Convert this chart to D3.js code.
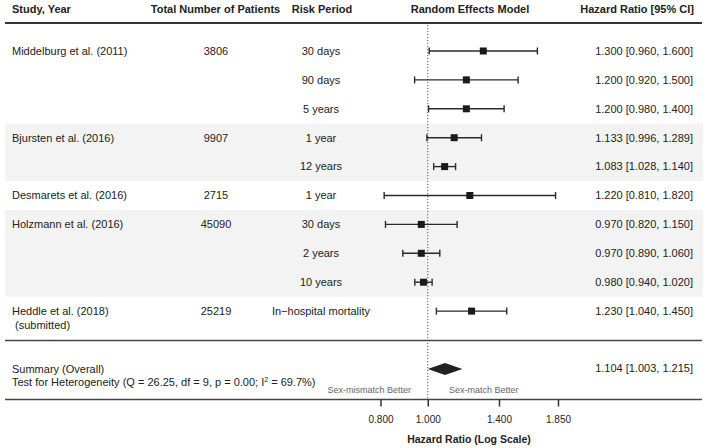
<!DOCTYPE html>
<html>
<head>
<meta charset="utf-8">
<script src="https://cdn.jsdelivr.net/npm/d3@7"></script>
<style>
  html, body { margin: 0; padding: 0; background: #fff; }
  svg { display: block; }
  text { font-family: "Liberation Sans", Arial, sans-serif; fill: #222; }
</style>
</head>
<body>
<svg id="chart" width="709" height="448"></svg>
<script>
// ---------- data ----------
const studies   = ["Middelburg et al. (2011)", "Bjursten et al. (2016)", "Desmarets et al. (2016)", "Holzmann et al. (2016)", "Heddle et al. (2018)"];
const studyNote = ["", "", "", "", " (submitted)"];
const patients  = [3806, 9907, 2715, 45090, 25219];
const rowStudy  = [0, 0, 0, 1, 1, 2, 3, 3, 3, 4];
const periods   = ["30 days", "90 days", "5 years", "1 year", "12 years", "1 year", "30 days", "2 years", "10 years", "In\u2212hospital mortality"];
const hr        = [1.300, 1.200, 1.200, 1.133, 1.083, 1.220, 0.970, 0.970, 0.980, 1.230];
const lower     = [0.960, 0.920, 0.980, 0.996, 1.028, 0.810, 0.820, 0.890, 0.940, 1.040];
const upper     = [1.600, 1.500, 1.400, 1.289, 1.140, 1.820, 1.150, 1.060, 1.020, 1.450];
const shadedStudies = [1, 3];
const summaryText = [1.104, 1.003, 1.215];          // estimate, lower, upper (label)
const summaryDrawn = [1.085, 1.000, 1.178];         // diamond as drawn in the figure
const ticks = [0.800, 1.000, 1.400, 1.850];
const heterogeneity = { Q: "26.25", df: "9", p: "0.00", I2: "69.7%" };

// ---------- layout ----------
const svg = d3.select("#chart");
const left = 5, right = 703;
const x = d3.scaleLog().domain([0.8, 1.85]).range([380.5, 558]);
const y = d3.scaleLinear().domain([0, 9]).range([51, 311.1]);
const rowH = y(1) - y(0);
const fmt = d3.format(".3f");

// shaded bands
shadedStudies.forEach(s => {
  const rows = rowStudy.map((v, i) => v === s ? i : -1).filter(i => i >= 0);
  const y0 = y(d3.min(rows)) - rowH / 2, y1 = y(d3.max(rows)) + rowH / 2;
  svg.append("rect").attr("x", left).attr("y", y0).attr("width", right - left).attr("height", y1 - y0)
     .attr("fill", "#f3f3f3");
});

// headers
const hdrY = 13;
const hdr = svg.append("g").attr("font-weight", "bold").attr("font-size", 11);
hdr.append("text").attr("x", 12).attr("y", hdrY).text("Study, Year");
hdr.append("text").attr("x", 215.5).attr("y", hdrY).attr("text-anchor", "middle").text("Total Number of Patients");
hdr.append("text").attr("x", 322).attr("y", hdrY).attr("text-anchor", "middle").text("Risk Period");
hdr.append("text").attr("x", 470).attr("y", hdrY).attr("text-anchor", "middle").text("Random Effects Model");
hdr.append("text").attr("x", 694).attr("y", hdrY).attr("text-anchor", "end").text("Hazard Ratio [95% CI]");

// horizontal rules
svg.append("line").attr("x1", left).attr("x2", right - 1).attr("y1", 23).attr("y2", 23).attr("stroke", "#333").attr("stroke-width", 2);
svg.append("line").attr("x1", left).attr("x2", right - 1).attr("y1", 340.5).attr("y2", 340.5).attr("stroke", "#444").attr("stroke-width", 1.5);
svg.append("line").attr("x1", left).attr("x2", right - 1).attr("y1", 399.5).attr("y2", 399.5).attr("stroke", "#444").attr("stroke-width", 1.5);

// reference line at 1
svg.append("line").attr("x1", x(1)).attr("x2", x(1)).attr("y1", 25).attr("y2", 399)
   .attr("stroke", "#555").attr("stroke-width", 1).attr("stroke-dasharray", "1.2,1.8");

// study labels & patients
studies.forEach((s, k) => {
  const first = rowStudy.indexOf(k);
  const yy = y(first);
  svg.append("text").attr("x", 12).attr("y", yy).attr("dy", "0.35em").attr("font-size", 11).text(s);
  if (studyNote[k]) svg.append("text").attr("x", 12).attr("y", yy + 14).attr("dy", "0.35em").attr("font-size", 11)
                       .attr("xml:space", "preserve").style("white-space", "pre").text(studyNote[k]);
  svg.append("text").attr("x", 216).attr("y", yy).attr("dy", "0.35em").attr("font-size", 11)
     .attr("text-anchor", "middle").text(patients[k]);
});

// rows
hr.forEach((v, i) => {
  const yy = y(i);
  svg.append("text").attr("x", 321).attr("y", yy).attr("dy", "0.35em").attr("font-size", 11)
     .attr("text-anchor", "middle").text(periods[i]);
  // CI drawn symmetric on log scale (yi ± 1.96·sei)
  const half = (Math.log(upper[i]) - Math.log(lower[i])) / 2;
  const lo = Math.exp(Math.log(v) - half), hi = Math.exp(Math.log(v) + half);
  const g = svg.append("g").attr("stroke", "#2a2a2a").attr("stroke-width", 1.4);
  g.append("line").attr("x1", x(lo)).attr("x2", x(hi)).attr("y1", yy).attr("y2", yy);
  g.append("line").attr("x1", x(lo)).attr("x2", x(lo)).attr("y1", yy - 3.5).attr("y2", yy + 3.5);
  g.append("line").attr("x1", x(hi)).attr("x2", x(hi)).attr("y1", yy - 3.5).attr("y2", yy + 3.5);
  svg.append("rect").attr("x", x(v) - 3.5).attr("y", yy - 3.5).attr("width", 7).attr("height", 7).attr("fill", "#1a1a1a");
  svg.append("text").attr("x", 693).attr("y", yy).attr("dy", "0.35em").attr("font-size", 11)
     .attr("text-anchor", "end").text(`${fmt(v)} [${fmt(lower[i])}, ${fmt(upper[i])}]`);
});

// summary
const sy = 369;
svg.append("polygon")
   .attr("points", [[x(summaryDrawn[1]), sy], [x(summaryDrawn[0]), sy - 6], [x(summaryDrawn[2]), sy], [x(summaryDrawn[0]), sy + 6]].map(p => p.join(",")).join(" "))
   .attr("fill", "#222");
svg.append("text").attr("x", 12).attr("y", 369).attr("dy", "0.35em").attr("font-size", 11).text("Summary (Overall)");
const het = svg.append("text").attr("x", 12).attr("y", 382.5).attr("dy", "0.35em").attr("font-size", 11);
het.append("tspan").text(`Test for Heterogeneity (Q = ${heterogeneity.Q}, df = ${heterogeneity.df}, p = ${heterogeneity.p}; I`);
het.append("tspan").attr("dy", -4).attr("font-size", 7).text("2");
het.append("tspan").attr("dy", 4).text(` = ${heterogeneity.I2})`);
svg.append("text").attr("x", 693).attr("y", 368).attr("dy", "0.35em").attr("font-size", 11)
   .attr("text-anchor", "end").text(`${fmt(summaryText[0])} [${fmt(summaryText[1])}, ${fmt(summaryText[2])}]`);

// direction labels
svg.append("text").attr("x", 411).attr("y", 390).attr("dy", "0.35em").attr("font-size", 9).attr("text-anchor", "end")
   .style("fill", "#666").text("Sex-mismatch Better");
svg.append("text").attr("x", 449).attr("y", 390).attr("dy", "0.35em").attr("font-size", 9)
   .style("fill", "#666").text("Sex-match Better");

// axis
const axis = d3.axisBottom(x).tickValues(ticks).tickFormat(d3.format(".3f")).tickSize(7).tickPadding(9);
const ag = svg.append("g").attr("transform", "translate(0,399.5)").call(axis);
ag.select(".domain").remove();
ag.selectAll(".tick line").attr("stroke", "#333").attr("stroke-width", 1.5);
ag.selectAll(".tick text").attr("font-size", 10).attr("font-family", "Liberation Sans, Arial, sans-serif").style("fill", "#222");
svg.append("text").attr("x", 469).attr("y", 439).attr("dy", "0.35em").attr("font-size", 10.5).attr("font-weight", "bold")
   .attr("text-anchor", "middle").text("Hazard Ratio (Log Scale)");
</script>
</body>
</html>
